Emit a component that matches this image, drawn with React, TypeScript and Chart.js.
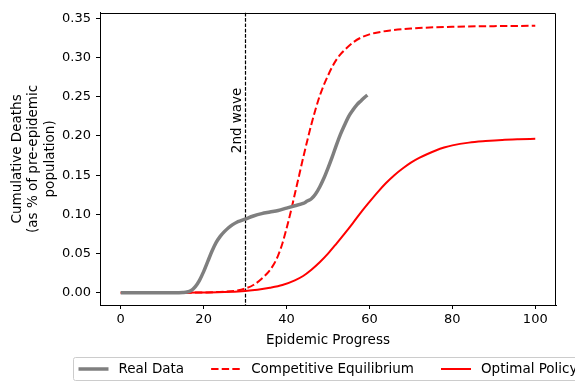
import React, { useEffect, useRef } from "react";
import { Chart, registerables } from "chart.js";

Chart.register(...registerables);

// ---- Data ----
const realX = [0, 5, 10, 15, 16, 17, 18, 19, 20, 21, 22, 23, 24, 25, 26, 27, 28, 29, 30, 32, 34, 36, 38, 40, 42, 44, 45, 46, 47, 48, 49, 50, 51, 52, 53, 54, 55, 56, 57, 58, 59, 59.5];
const realY = [0, 0, 0, 0.0005, 0.001, 0.003, 0.008, 0.016, 0.027, 0.04, 0.053, 0.064, 0.072, 0.078, 0.083, 0.087, 0.09, 0.092, 0.094, 0.098, 0.101, 0.103, 0.105, 0.108, 0.111, 0.114, 0.117, 0.12, 0.126, 0.135, 0.146, 0.159, 0.173, 0.188, 0.202, 0.214, 0.225, 0.233, 0.24, 0.245, 0.25, 0.252];

const ceX = [0, 10, 20, 25, 28, 30, 32, 34, 36, 37, 38, 39, 40, 41, 42, 43, 44, 45, 46, 47, 48, 49, 50, 51, 52, 53, 54, 56, 58, 60, 62, 65, 70, 80, 90, 100];
const ceY = [0, 0, 0.0005, 0.0015, 0.003, 0.0055, 0.01, 0.018, 0.029, 0.037, 0.048, 0.063, 0.082, 0.103, 0.126, 0.149, 0.172, 0.194, 0.215, 0.234, 0.251, 0.265, 0.277, 0.288, 0.297, 0.304, 0.3095, 0.319, 0.3255, 0.3295, 0.332, 0.3345, 0.337, 0.3392, 0.34, 0.3404];

const opX = [0, 10, 20, 25, 30, 33, 36, 39, 42, 44, 46, 48, 50, 52, 54, 56, 58, 60, 62, 64, 66, 68, 70, 72, 74, 76, 78, 80, 84, 88, 92, 96, 100];
const opY = [0, 0, 0.0005, 0.001, 0.0025, 0.004, 0.0065, 0.01, 0.016, 0.0215, 0.0295, 0.039, 0.05, 0.0625, 0.0755, 0.089, 0.103, 0.116, 0.1285, 0.14, 0.15, 0.1585, 0.166, 0.172, 0.177, 0.1815, 0.1852, 0.188, 0.1915, 0.1935, 0.195, 0.1958, 0.1963];

const seriesLabels = ["Real Data", "Competitive Equilibrium", "Optimal Policy"];
const xTicks = [0, 20, 40, 60, 80, 100];
const yTicks = [0, 0.05, 0.1, 0.15, 0.2, 0.25, 0.3, 0.35];
const waveX = 30;
const waveLabel = "2nd wave";
const waveLabelY = 0.178;
const xTitle = "Epidemic Progress";
const yTitle = ["Cumulative Deaths", "(as % of pre-epidemic", "population)"];

const FONT = "'DejaVu Sans', 'Liberation Sans', sans-serif";

const toPoints = (xs: number[], ys: number[]) => xs.map((x, i) => ({ x, y: ys[i] }));

const decorPlugin = {
  id: "decor",
  beforeDatasetsDraw(chart: any) {
    const { ctx, chartArea: a, scales } = chart;
    const px = Math.round(scales.x.getPixelForValue(waveX)) + 0.5;
    ctx.save();
    ctx.strokeStyle = "#000";
    ctx.lineWidth = 1.2;
    ctx.setLineDash([3.7, 1.6]);
    ctx.beginPath();
    ctx.moveTo(px, a.top);
    ctx.lineTo(px, a.bottom);
    ctx.stroke();
    ctx.setLineDash([]);
    const py = scales.y.getPixelForValue(waveLabelY);
    ctx.translate(px - 1, py);
    ctx.rotate(-Math.PI / 2);
    ctx.font = `13.5px ${FONT}`;
    ctx.fillStyle = "#000";
    ctx.textAlign = "left";
    ctx.textBaseline = "bottom";
    ctx.fillText(waveLabel, 0, 0);
    ctx.restore();
  },
  afterDraw(chart: any) {
    const { ctx, chartArea: a } = chart;
    ctx.save();
    ctx.strokeStyle = "#000";
    ctx.lineWidth = 1;
    const t = Math.round(a.top) + 0.5;
    const r = Math.round(a.right) - 0.5;
    ctx.beginPath();
    ctx.moveTo(a.left, t);
    ctx.lineTo(r, t);
    ctx.lineTo(r, a.bottom);
    ctx.stroke();

    // legend
    const ds = chart.data.datasets;
    ctx.font = `13.5px ${FONT}`;
    const boxLeft = 73.5;
    const boxTop = 357.5;
    const boxH = 23;
    const cy = boxTop + boxH / 2;
    const gap = 27;
    let x = boxLeft + 5;
    const items: any[] = [];
    ds.forEach((d: any) => {
      const w = ctx.measureText(d.label).width;
      items.push({ d, x, w });
      x += 40 + w + gap;
    });
    const boxW = x - gap + 6 - boxLeft;
    ctx.fillStyle = "rgba(255,255,255,0.8)";
    ctx.strokeStyle = "#cccccc";
    ctx.lineWidth = 1;
    ctx.beginPath();
    (ctx as any).roundRect(boxLeft, boxTop, boxW, boxH, 2);
    ctx.fill();
    ctx.stroke();
    items.forEach(({ d, x: ix }) => {
      ctx.strokeStyle = d.borderColor;
      ctx.lineWidth = d.borderWidth;
      ctx.setLineDash(d.borderDash || []);
      ctx.beginPath();
      ctx.moveTo(ix, cy);
      ctx.lineTo(ix + 30, cy);
      ctx.stroke();
      ctx.setLineDash([]);
      ctx.fillStyle = "#000";
      ctx.textAlign = "left";
      ctx.textBaseline = "middle";
      ctx.fillText(d.label, ix + 40, cy);
    });
    ctx.restore();
  },
};

export default function App() {
  const ref = useRef<HTMLCanvasElement | null>(null);
  useEffect(() => {
    if (!ref.current) return;
    const chart = new Chart(ref.current, {
      type: "line",
      data: {
        datasets: [
          {
            label: seriesLabels[0],
            data: toPoints(realX, realY),
            borderColor: "#7f7f7f",
            borderWidth: 3.5,
            pointRadius: 0,
            cubicInterpolationMode: "monotone",
            fill: false,
          },
          {
            label: seriesLabels[1],
            data: toPoints(ceX, ceY),
            borderColor: "#ff0000",
            borderWidth: 2,
            borderDash: [7.4, 3.2],
            pointRadius: 0,
            cubicInterpolationMode: "monotone",
            fill: false,
          },
          {
            label: seriesLabels[2],
            data: toPoints(opX, opY),
            borderColor: "#ff0000",
            borderWidth: 2,
            pointRadius: 0,
            cubicInterpolationMode: "monotone",
            fill: false,
          },
        ],
      },
      options: {
        animation: false,
        responsive: false,
        parsing: true,
        layout: { padding: { left: 0, right: 19, top: 10, bottom: 24 } },
        plugins: { legend: { display: false }, tooltip: { enabled: false } },
        scales: {
          x: {
            type: "linear",
            min: -5,
            max: 105,
            afterFit: (s: any) => { s.height = 52; },
            afterBuildTicks: (s: any) => { s.ticks = xTicks.map((v) => ({ value: v })); },
            grid: { display: true, drawOnChartArea: false, drawTicks: true, tickLength: 4, tickColor: "#000", tickWidth: 1 },
            border: { display: true, color: "#000", width: 1 },
            ticks: {
              color: "#000",
              font: { family: FONT, size: 13 },
              padding: 3,
              maxRotation: 0,
              callback: (v: any) => String(v),
            },
            title: {
              display: true,
              text: xTitle,
              color: "#000",
              font: { family: FONT, size: 13.5 },
              padding: { top: 0, bottom: 8 },
            },
          },
          y: {
            type: "linear",
            min: -0.0155,
            max: 0.357,
            afterFit: (s: any) => { s.width = 100; },
            afterBuildTicks: (s: any) => { s.ticks = yTicks.map((v) => ({ value: v })); },
            grid: { display: true, drawOnChartArea: false, drawTicks: true, tickLength: 4, tickColor: "#000", tickWidth: 1 },
            border: { display: true, color: "#000", width: 1 },
            ticks: {
              color: "#000",
              font: { family: FONT, size: 13 },
              padding: 5,
              callback: (v: any) => Number(v).toFixed(2),
            },
            title: {
              display: true,
              text: yTitle,
              color: "#000",
              font: { family: FONT, size: 13.5, lineHeight: 1.22 },
              padding: { top: 9, bottom: 0 },
            },
          },
        },
      } as any,
      plugins: [decorPlugin],
    });
    return () => chart.destroy();
  }, []);
  return (
    <div style={{ position: "absolute", left: 0, top: 0, width: 575, height: 381, overflow: "hidden", background: "#fff" }}>
      <canvas ref={ref} width={575} height={381} style={{ display: "block" }} />
    </div>
  );
}
